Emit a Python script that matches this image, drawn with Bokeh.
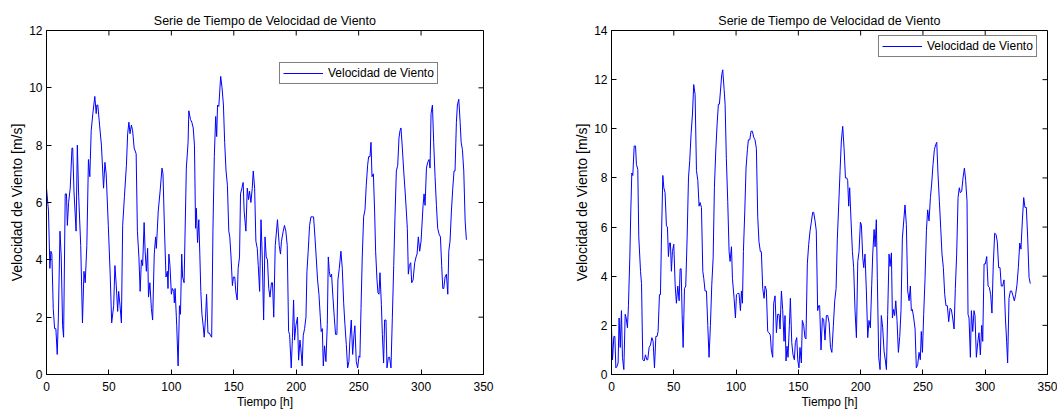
import math
from bokeh.plotting import figure
from bokeh.layouts import row
from bokeh.models import FixedTicker, Range1d
from bokeh.embed import file_html
from bokeh.resources import INLINE

titulo = "Serie de Tiempo de Velocidad de Viento"
etiqueta_x = "Tiempo [h]"
etiqueta_y = "Velocidad de Viento [m/s]"
leyenda = "Velocidad de Viento"

ticks_x = [0, 50, 100, 150, 200, 250, 300, 350]
ticks_y_izq = [0, 2, 4, 6, 8, 10, 12]
ticks_y_der = [0, 2, 4, 6, 8, 10, 12, 14]

t_izq = [0, 1.6, 2.7, 3.5, 4.3, 5.4, 6.5, 7.5, 8.6, 9.5, 10.8, 11.8, 12.9, 13.7, 15.0, 16.0, 16.7, 17.7, 19.0, 20.4,
         21.0, 22.0, 23.7, 24.7, 25.8, 27.4, 28.8, 30.0, 31.0, 32.3, 33.6, 34.7, 35.8, 37.1, 38.7, 39.8, 40.3, 41.1, 42.5, 44.0,
         45.7, 46.8, 47.8, 49.5, 51.0, 52.2, 53.8, 54.8, 55.9, 57.0, 57.8, 58.9, 60.0, 61.0, 62.4, 64.0, 65.0, 66.0, 66.9, 68.0,
         69.0, 70.2, 71.8, 72.8, 74.0, 75.0, 76.0, 77.0, 78.2, 79.0, 80.0, 81.0, 81.7, 82.8, 84.0, 85.0, 86.3, 87.4, 88.0, 89.5,
         91.0, 92.5, 93.3, 94.6, 95.7, 96.8, 97.3, 98.0, 98.9, 100.0, 100.8, 101.9, 102.4, 103.0, 104.3, 105.4, 106.5, 107.3, 108.3, 109.0,
         110.2, 112.0, 113.4, 114.0, 115.3, 116.4, 117.5, 118.5, 119.4, 120.0, 121.0, 122.0, 122.8, 123.6, 124.5, 125.5, 126.3, 127.4, 128.2, 129.3,
         130.4, 131.5, 132.3, 133.3, 134.4, 135.5, 136.3, 137.0, 138.0, 139.5, 140.6, 141.7, 142.7, 143.8, 144.9, 146.0, 146.8, 147.8, 148.9, 149.7,
         150.8, 151.6, 152.7, 153.5, 154.6, 155.4, 156.5, 157.5, 158.3, 159.7, 160.8, 161.8, 162.6, 163.7, 164.8, 165.6, 166.7, 167.7, 168.8, 169.6,
         170.7, 171.8, 172.8, 173.9, 175.0, 176.0, 177.0, 178.0, 179.0, 180.2, 181.0, 182.0, 183.2, 184.0, 185.0, 186.4, 187.4, 188.2, 189.6, 190.6,
         191.7, 192.8, 193.9, 194.7, 196.0, 197.0, 197.9, 198.7, 199.7, 201.0, 201.9, 203.0, 203.7, 204.8, 205.6, 206.7, 207.8, 208.6, 209.6, 210.7,
         211.8, 212.8, 213.9, 215.0, 216.0, 217.1, 218.2, 219.3, 220.0, 220.9, 221.7, 222.7, 223.8, 224.9, 225.7, 226.5, 227.3, 228.3, 229.4, 230.5,
         231.5, 232.6, 233.4, 234.5, 235.8, 236.9, 238.0, 239.0, 240.1, 241.2, 242.2, 243.0, 244.1, 245.2, 246.3, 247.0, 248.1, 249.2, 250.3, 251.0,
         251.9, 252.9, 254.0, 255.1, 256.1, 257.2, 258.0, 259.1, 259.9, 260.7, 261.8, 262.8, 263.6, 264.7, 265.5, 266.3, 267.1, 268.2, 269.0, 270.0,
         270.8, 271.9, 272.7, 273.8, 274.8, 275.9, 277.0, 278.1, 279.1, 280.2, 281.3, 282.3, 283.1, 283.9, 285.0, 286.1, 287.2, 288.2, 289.0, 289.8,
         290.6, 291.7, 292.5, 293.6, 294.9, 296.0, 296.8, 297.8, 298.9, 300.0, 301.6, 302.4, 303.2, 304.3, 305.3, 306.4, 307.2, 308.0, 309.1, 310.1,
         311.2, 312.3, 313.3, 314.4, 315.5, 316.5, 317.4, 318.2, 319.2, 320.3, 321.4, 322.2, 323.2, 324.3, 325.4, 326.4, 327.2, 328.3, 329.1, 330.2,
         331.3, 332.1, 333.1, 334.2, 335.3, 336.3]
v_izq = [6.5, 5.7, 3.7, 4.3, 4.2, 2.3, 1.6, 1.6, 0.7, 2.0, 5.0, 4.1, 1.7, 1.3, 6.3, 6.3, 5.2, 6.0, 6.5, 7.9,
         7.9, 6.4, 5.0, 8.0, 6.2, 4.5, 1.8, 3.6, 3.2, 4.5, 7.5, 6.9, 8.5, 9.1, 9.7, 9.1, 9.4, 9.4, 8.7, 8.0,
         6.5, 7.4, 7.0, 5.2, 3.5, 1.8, 2.4, 3.8, 3.1, 2.2, 2.9, 2.4, 1.8, 5.2, 6.2, 7.3, 8.4, 8.8, 8.4, 8.7,
         8.5, 7.9, 7.7, 5.0, 4.1, 2.9, 4.0, 3.8, 5.3, 4.3, 3.6, 4.4, 2.7, 3.2, 2.3, 1.9, 4.2, 4.8, 4.4, 5.7,
         6.4, 7.2, 7.0, 4.9, 3.4, 3.6, 3.0, 4.2, 3.8, 2.8, 3.0, 2.9, 2.5, 3.0, 1.7, 0.3, 2.4, 2.1, 4.2, 3.4,
         3.2, 7.2, 8.1, 9.2, 8.9, 8.8, 8.6, 8.0, 5.1, 5.8, 4.6, 5.4, 4.2, 2.9, 2.1, 1.7, 1.3, 2.0, 2.8, 1.45,
         1.45, 1.35, 1.3, 5.0, 7.6, 9.0, 8.3, 9.4, 9.35, 10.4, 10.0, 9.4, 8.1, 7.1, 6.6, 5.0, 4.8, 4.1, 3.1, 3.4,
         3.4, 2.9, 2.6, 3.7, 4.1, 6.3, 6.5, 6.7, 5.7, 5.0, 6.5, 6.1, 6.4, 6.0, 6.5, 7.1, 6.5, 4.65, 4.4, 3.8,
         2.9, 5.4, 4.1, 1.9, 4.8, 4.1, 4.0, 3.0, 2.7, 3.2, 3.2, 2.0, 4.5, 4.9, 5.4, 4.5, 4.2, 4.65, 5.0, 5.2,
         5.0, 4.5, 1.5, 1.4, 0.23, 1.3, 2.6, 1.2, 1.7, 2.0, 0.5, 1.2, 0.9, 0.3, 1.35, 1.6, 2.0, 3.6, 4.3, 5.2,
         5.5, 5.5, 5.5, 4.8, 4.1, 3.3, 2.8, 2.0, 1.5, 1.6, 0.3, 1.0, 0.45, 1.75, 4.1, 3.6, 3.4, 3.5, 2.7, 2.0,
         1.4, 1.4, 3.3, 3.7, 4.3, 3.7, 2.5, 1.75, 1.05, 0.23, 0.45, 1.2, 1.9, 0.7, 1.4, 1.7, 0.45, 0.23, 0.65, 0.6,
         2.3, 4.1, 5.5, 5.75, 6.6, 7.3, 7.6, 7.6, 8.1, 6.9, 7.0, 5.7, 4.3, 3.3, 2.85, 2.8, 3.55, 2.45, 1.4, 0.4,
         1.9, 1.9, 0.23, 0.6, 0.6, 0.23, 2.0, 3.8, 5.5, 7.1, 7.3, 8.25, 8.5, 8.6, 7.9, 7.1, 6.4, 5.7, 5.1, 3.5,
         3.8, 3.9, 3.2, 3.3, 3.9, 4.1, 4.2, 4.8, 4.3, 4.65, 5.9, 6.3, 5.9, 7.2, 7.4, 7.5, 7.2, 9.1, 9.4, 8.1,
         6.9, 5.9, 5.1, 4.9, 4.8, 3.8, 3.0, 3.0, 3.4, 3.5, 2.8, 4.3, 4.65, 5.7, 6.5, 7.1, 7.1, 8.8, 9.4, 9.6,
         8.8, 8.1, 7.85, 7.1, 5.35, 4.7]

t_der = [0, 0.8, 1.9, 2.7, 3.5, 4.5, 5.3, 6.1, 7.0, 8.0, 8.8, 9.9, 11.0, 11.8, 12.8, 13.6, 14.7, 15.5, 16.3, 17.1,
         18.2, 19.3, 20.0, 21.1, 21.9, 23.3, 24.1, 25.1, 26.2, 27.3, 28.3, 29.1, 30.2, 31.3, 32.4, 33.4, 34.5, 35.6, 36.6, 37.4,
         38.5, 39.3, 40.1, 41.2, 42.0, 43.0, 44.1, 44.9, 45.7, 46.5, 47.3, 48.1, 48.9, 50.0, 51.1, 52.1, 53.2, 54.3, 55.1, 55.9,
         56.7, 57.5, 58.6, 59.6, 60.7, 61.8, 62.8, 63.9, 65.0, 66.0, 67.1, 68.2, 69.3, 70.3, 71.1, 72.2, 73.3, 74.1, 75.1, 76.2,
         77.3, 78.3, 79.4, 80.5, 81.6, 82.6, 83.7, 84.8, 85.8, 86.6, 87.4, 88.5, 89.3, 90.4, 91.2, 92.2, 93.3, 94.4, 95.2, 96.3,
         97.1, 98.4, 99.5, 100.3, 101.3, 102.4, 103.5, 104.3, 105.1, 105.9, 107.0, 108.0, 109.1, 109.9, 111.0, 112.0, 113.1, 114.2, 115.2, 116.3,
         117.4, 118.4, 119.5, 120.3, 121.4, 122.5, 123.3, 124.3, 125.4, 126.5, 127.5, 128.3, 129.4, 130.2, 131.3, 132.4, 133.4, 134.5, 135.3, 136.4,
         137.4, 138.5, 139.3, 140.1, 140.9, 141.7, 142.8, 143.6, 144.7, 145.7, 146.8, 147.6, 148.7, 149.5, 150.5, 151.3, 152.4, 153.2, 154.3, 155.3,
         156.1, 157.2, 158.3, 159.4, 160.4, 161.5, 162.3, 163.4, 164.4, 165.5, 166.3, 167.1, 168.2, 169.3, 170.3, 171.4, 172.5, 173.6, 174.7, 175.8,
         176.9, 178.1, 179.2, 180.3, 181.3, 182.4, 183.5, 184.5, 185.6, 186.7, 187.8, 188.8, 189.6, 190.4, 191.2, 192.3, 193.4, 194.4, 195.5, 196.6,
         197.7, 198.7, 199.8, 200.6, 201.7, 202.5, 203.5, 204.6, 205.7, 206.7, 207.8, 208.9, 209.7, 210.8, 211.6, 212.6, 213.4, 214.5, 215.6, 216.6,
         217.7, 218.8, 219.9, 220.7, 221.7, 222.8, 223.6, 224.7, 225.5, 226.5, 227.3, 228.2, 229.2, 230.3, 231.4, 232.4, 233.5, 234.6, 235.6, 236.7,
         237.8, 238.9, 239.9, 240.7, 241.5, 242.6, 243.7, 244.7, 245.8, 246.9, 247.9, 248.7, 249.6, 250.6, 251.7, 252.8, 253.8, 254.9, 256.0, 257.0,
         258.1, 259.2, 260.2, 261.1, 262.1, 263.2, 264.3, 265.3, 266.4, 267.5, 268.5, 269.6, 270.7, 271.8, 272.8, 273.9, 275.0, 276.0, 277.1, 278.2,
         279.2, 280.0, 281.1, 282.2, 283.3, 284.3, 285.4, 286.2, 287.0, 288.1, 288.9, 290.0, 291.0, 291.8, 292.9, 294.0, 295.0, 296.1, 297.2, 298.0,
         299.1, 300.1, 301.2, 302.3, 303.3, 304.4, 305.4, 306.5, 307.6, 308.7, 309.7, 310.8, 311.9, 312.9, 314.0, 315.1, 316.2, 317.2, 318.0, 319.1,
         320.2, 321.2, 322.3, 323.4, 324.4, 325.5, 326.6, 327.7, 328.7, 329.8, 330.9, 331.9, 333.0, 334.1, 335.2, 336.2]
v_der = [1.9, 0.6, 1.55, 1.55, 0.27, 0.34, 0.47, 2.3, 1.1, 2.6, 0.7, 0.2, 2.45, 2.3, 1.9, 2.8, 4.75, 6.65, 8.2, 8.1,
         9.3, 9.3, 8.55, 8.35, 5.6, 4.2, 3.7, 0.6, 0.55, 0.8, 0.6, 0.6, 1.1, 1.2, 1.5, 1.35, 0.27, 1.55, 1.55, 1.75,
         3.25, 3.25, 5.55, 8.1, 7.6, 7.4, 6.05, 6.0, 4.8, 5.35, 5.35, 4.2, 5.0, 5.3, 3.65, 2.9, 3.6, 3.0, 4.3, 4.3,
         2.45, 1.1, 3.5, 3.6, 5.55, 8.0, 8.7, 9.8, 10.6, 11.8, 11.4, 8.3, 7.9, 6.85, 7.0, 6.8, 4.2, 3.9, 3.4, 3.4,
         2.0, 0.7, 2.0, 3.65, 4.75, 7.6, 9.1, 10.2, 11.0, 11.0, 11.5, 12.2, 12.4, 11.6, 11.0, 8.8, 7.05, 5.0, 4.6, 5.2,
         3.9, 3.1, 2.3, 3.25, 3.3, 3.3, 2.6, 3.4, 2.9, 5.0, 6.65, 8.4, 9.15, 9.55, 9.55, 9.9, 9.9, 9.65, 9.55, 9.2,
         6.4, 5.4, 5.0, 5.0, 3.5, 3.1, 3.6, 3.45, 1.75, 1.7, 1.6, 1.0, 0.7, 2.9, 3.2, 1.7, 2.45, 2.45, 1.85, 3.4,
         2.65, 1.35, 2.4, 0.55, 1.15, 0.7, 2.0, 3.1, 1.3, 0.8, 0.6, 1.3, 1.5, 0.6, 0.27, 1.1, 0.47, 2.2, 2.0, 1.5,
         1.45, 4.5, 5.3, 5.85, 6.2, 6.6, 6.6, 6.25, 5.85, 2.6, 2.8, 2.8, 1.0, 2.3, 2.25, 1.4, 2.4, 2.4, 2.1, 1.1,
         0.9, 2.0, 3.0, 3.5, 5.55, 6.9, 8.3, 9.5, 10.1, 9.2, 8.0, 8.0, 7.9, 6.85, 7.6, 6.25, 5.0, 4.35, 2.6, 1.5,
         4.6, 5.0, 6.2, 6.1, 4.75, 4.35, 4.9, 3.4, 1.5, 2.2, 1.9, 3.65, 4.9, 5.9, 5.2, 6.3, 3.9, 0.7, 0.2, 2.4,
         1.9, 0.95, 0.55, 0.2, 2.45, 4.9, 4.4, 4.95, 2.3, 2.65, 2.4, 3.0, 2.2, 0.9, 1.55, 2.6, 5.55, 6.25, 6.9, 6.1,
         3.4, 3.0, 3.6, 2.6, 2.65, 2.3, 1.85, 0.27, 0.4, 0.9, 0.6, 1.75, 0.9, 2.45, 3.9, 5.85, 6.7, 6.25, 7.2, 7.75,
         8.55, 9.15, 9.35, 9.45, 8.15, 7.05, 5.95, 4.9, 4.35, 3.25, 2.8, 2.8, 2.15, 2.7, 2.65, 2.3, 1.85, 3.5, 4.9, 7.2,
         7.6, 7.4, 7.45, 8.0, 8.4, 7.9, 7.05, 2.45, 2.3, 0.7, 2.6, 1.75, 2.6, 2.4, 0.7, 1.3, 1.7, 0.8, 2.0, 1.35,
         4.5, 4.5, 4.8, 3.6, 3.55, 3.25, 2.5, 4.5, 5.75, 5.7, 5.4, 4.35, 4.35, 3.6, 3.6, 3.85, 2.3, 1.35, 0.47, 3.1,
         3.4, 3.4, 3.2, 3.0, 3.25, 3.65, 4.35, 5.35, 5.1, 6.25, 7.2, 6.8, 6.8, 5.55, 3.95, 3.7]

FONT = "Liberation Sans"
X_MAX = 350


def estilo_eje(ax, ticks, label_size, standoff):
    ax.ticker = FixedTicker(ticks=ticks)
    ax.axis_line_color = "black"
    ax.axis_line_width = 1
    ax.major_tick_line_color = "black"
    ax.major_tick_in = 5
    ax.major_tick_out = 0
    ax.minor_tick_line_color = None
    ax.major_label_text_font = FONT
    ax.major_label_text_color = "black"
    ax.major_label_text_font_size = "12px"
    ax.major_label_standoff = standoff
    ax.axis_label_text_font = FONT
    ax.axis_label_text_font_size = label_size
    ax.axis_label_text_font_style = "normal"
    ax.axis_label_text_color = "black"


def hacer_figura(t, v, ymax, ticks_y, borde_der, fw, leg_loc):
    p = figure(frame_width=fw, frame_height=344,
               x_range=Range1d(0, X_MAX), y_range=Range1d(0, ymax),
               output_backend="svg", toolbar_location=None,
               min_border_left=46, min_border_right=borde_der,
               min_border_top=30, min_border_bottom=33,
               title=titulo)
    p.grid.visible = False
    p.outline_line_color = "black"
    p.outline_line_alpha = 1
    p.background_fill_color = "white"
    p.border_fill_color = "white"
    p.title.text_font = FONT
    p.title.text_font_size = "12.5px"
    p.title.text_font_style = "normal"
    p.title.align = "center"
    p.title.text_color = "black"
    p.title.standoff = 5

    p.line(t, v, line_color="#0000ff", line_width=1, legend_label=leyenda)

    # box ticks on top and right (MATLAB style), inward
    p.ray(x=ticks_x, y=[ymax] * len(ticks_x), length=5, length_units="screen",
          angle=-math.pi / 2, line_color="black", line_width=1)
    p.ray(x=[X_MAX] * len(ticks_y), y=ticks_y, length=5, length_units="screen",
          angle=math.pi, line_color="black", line_width=1)

    estilo_eje(p.xaxis[0], ticks_x, "12px", 7)
    estilo_eje(p.yaxis[0], ticks_y, "14px", 4)
    p.xaxis[0].axis_label = etiqueta_x
    p.xaxis[0].axis_label_standoff = 1
    p.yaxis[0].axis_label = etiqueta_y
    p.yaxis[0].axis_label_standoff = 1

    lg = p.legend[0]
    lg.location = leg_loc
    lg.border_line_color = "black"
    lg.border_line_width = 1
    lg.background_fill_color = "white"
    lg.background_fill_alpha = 1
    lg.padding = 3
    lg.margin = 0
    lg.spacing = 0
    lg.label_text_font = FONT
    lg.label_text_font_size = "12px"
    lg.label_text_color = "black"
    lg.glyph_width = 40
    lg.glyph_height = 12
    lg.label_height = 12
    lg.label_standoff = 5
    return p


p1 = hacer_figura(t_izq, v_izq, 12, ticks_y_izq, 82, 437, (233, 290))
p2 = hacer_figura(t_der, v_der, 14, ticks_y_der, 10, 436, (267, 317))

layout = row(p1, p2)
open("out.html", "w").write(file_html(layout, INLINE))
